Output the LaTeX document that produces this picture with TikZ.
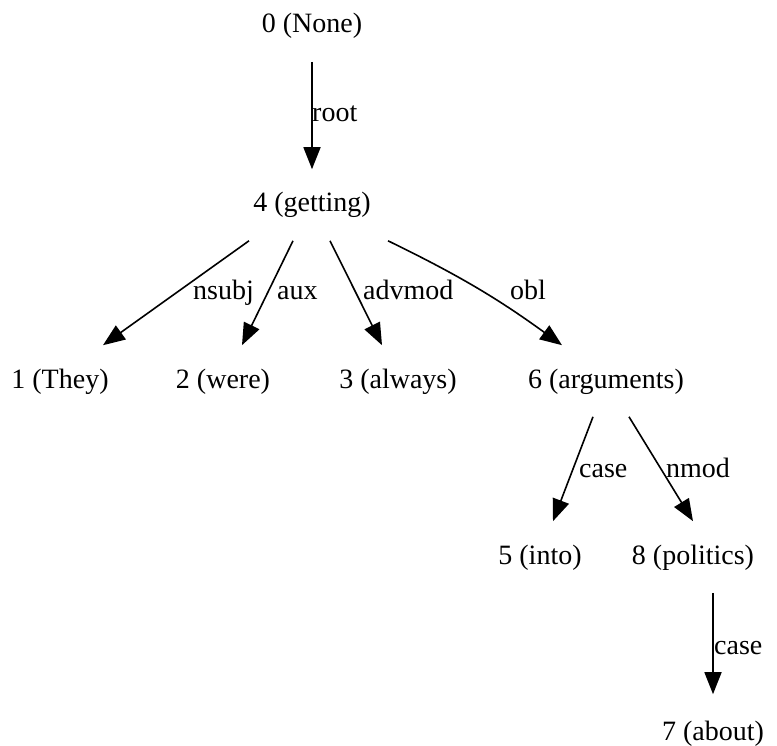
\documentclass[tikz,border=0pt]{standalone}
\usepackage{fontspec}
\setmainfont{Liberation Serif}
\usepackage{tikz}
\usetikzlibrary{arrows,arrows.meta,positioning}
\tikzset{
  dep_n/.style = {align=center, inner xsep=0pt, inner ysep=23pt, text height=19.6pt, text depth=5.6pt, anchor=base, font=\fontsize{28}{34}\selectfont},
  dep_l/.style = {inner sep=0pt, anchor=base west, font=\fontsize{28}{34}\selectfont},
  dep_e/.style = {draw=black, line width=1.6pt, -{Triangle[length=22pt,width=17pt]}}
}
\begin{document}
\begin{tikzpicture}[x=1pt,y=-1pt]
\useasboundingbox (0,0) rectangle (777,746);
% words
\node[dep_n] (n0) at (312,33) {0 (None)};
\node[dep_n] (n4) at (312,212) {4 (getting)};
\node[dep_n] (n1) at (60,388) {1 (They)};
\node[dep_n] (n2) at (223,388) {2 (were)};
\node[dep_n] (n3) at (398,388) {3 (always)};
\node[dep_n] (n6) at (606,388) {6 (arguments)};
\node[dep_n] (n5) at (540,564) {5 (into)};
\node[dep_n] (n8) at (693,564) {8 (politics)};
\node[dep_n] (n7) at (713,740) {7 (about)};
% relations
\draw[dep_e] (n0.south) -- (n4.north);
\draw[dep_e] ([xshift=-63pt]n4.south) -- ([xshift=43pt]n1.north);
\draw[dep_e] ([xshift=-19pt]n4.south) -- ([xshift=19pt]n2.north);
\draw[dep_e] ([xshift=18pt]n4.south) -- ([xshift=-16pt]n3.north);
\draw[dep_e] ([xshift=76pt]n4.south) to[bend left=5] ([xshift=-44pt]n6.north);
\draw[dep_e] ([xshift=-13pt]n6.south) -- ([xshift=13pt]n5.north);
\draw[dep_e] ([xshift=23pt]n6.south) -- (n8.north);
\draw[dep_e] ([xshift=20pt]n8.south) -- ([yshift=3pt]n7.north);
% labels
\node[dep_l] (l_root) at (312,122) {root};
\node[dep_l] (l_nsubj) at (193,300) {nsubj};
\node[dep_l] (l_aux) at (277,300) {aux};
\node[dep_l] (l_advmod) at (363,300) {advmod};
\node[dep_l] (l_obl) at (510,300) {obl};
\node[dep_l] (l_case) at (579,477) {case};
\node[dep_l] (l_nmod) at (666,477) {nmod};
\node[dep_l] (l_case2) at (714,654) {case};
\end{tikzpicture}
\end{document}
